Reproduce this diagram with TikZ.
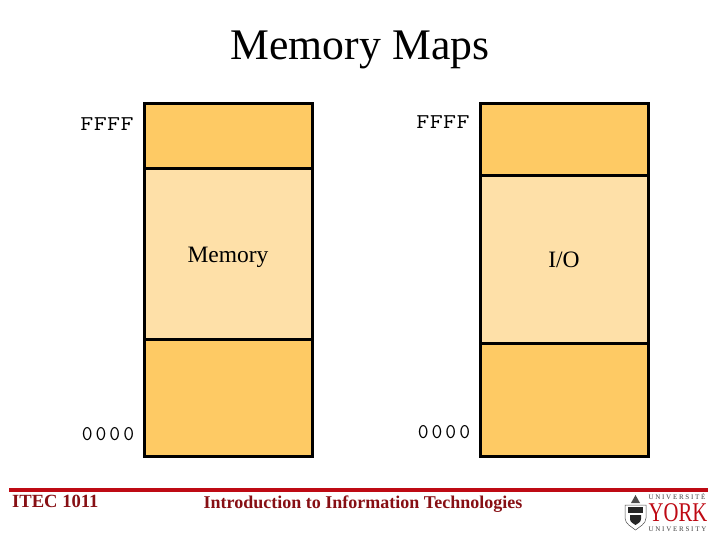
\documentclass[tikz,border=0pt]{standalone}
\usepackage{fontspec}
\setmainfont{Liberation Serif}
\definecolor{darkband}{RGB}{254,202,100}
\definecolor{lightband}{RGB}{254,224,168}
\definecolor{yorkred}{RGB}{190,10,20}
\definecolor{footred}{RGB}{135,15,20}
\newcommand{\gap}{\kern.4pt\relax}
\newcommand{\widegap}{\kern3pt\relax}
\tikzset{
  memblock/.style={draw=black,line width=3pt,minimum width=167.7pt,inner sep=0pt,anchor=north west},
  hexlabel/.style={font=\ttfamily\fontsize{21}{21}\selectfont,inner sep=0pt,text=black},
  bodylabel/.style={font=\fontsize{23.5}{24}\selectfont,inner sep=0pt},
  footlabel/.style={font=\bfseries\fontsize{18}{18}\selectfont,text=footred,inner sep=0pt},
  logotext/.style={font=\fontsize{7}{7}\selectfont,text=black!75,inner sep=0pt}
}
\begin{document}
\begin{tikzpicture}[x=1pt,y=-1pt]
\useasboundingbox (0,0) rectangle (720,540);
\node[font=\fontsize{43.7}{44}\selectfont,inner sep=0pt] (title) at (360,50) {Memory Maps};
% left column
\node[memblock,fill=darkband,minimum height=65pt] (a1) at (143.2,101.7) {};
\node[memblock,fill=lightband,minimum height=170.7pt] (a2) at (143.2,166.8) {};
\node[memblock,fill=darkband,minimum height=117pt] (a3) at (143.2,337.5) {};
% right column
\node[memblock,fill=darkband,minimum height=72pt] (b1) at (479.2,101.7) {};
\node[memblock,fill=lightband,minimum height=168pt] (b2) at (479.2,173.7) {};
\node[memblock,fill=darkband,minimum height=113pt] (b3) at (479.2,341.7) {};
\node[hexlabel,xscale=1.2] (l1) at (107,124) {F\gap F\gap F\gap F};
\node[hexlabel] (l2) at (108,434) {0\widegap 0\widegap 0\widegap 0};
\node[hexlabel,xscale=1.2] (r1) at (443,122) {F\gap F\gap F\gap F};
\node[hexlabel] (r2) at (444,432) {0\widegap 0\widegap 0\widegap 0};
\node[bodylabel] (mem) at (228,257) {Memory};
\node[bodylabel] (io) at (564,260) {I/O};
% footer
\fill[yorkred] (9,488) rectangle (708,492.3);
\node[footlabel,font=\bfseries\fontsize{18.6}{19}\selectfont,anchor=west] (code) at (12,501.5) {ITEC 1011};
\node[footlabel] (course) at (363,504) {Introduction to Information Technologies};
% logo
\node[logotext] (lg1) at (677,496.5) {U N I V E R S I T É};
\node[font=\fontsize{22}{22}\selectfont,text=yorkred,inner sep=0pt,xscale=.94,yscale=1.23] (lg2) at (678,513) {YORK};
\node[logotext] (lg3) at (677.5,529) {U N I V E R S I T Y};
\draw[black!70,line width=.5pt,fill=white] (625,505) -- (646,505) -- (646,518) .. controls (646,524) and (639,527) .. (635.5,530) .. controls (632,527) and (625,524) .. (625,518) -- cycle;
\fill[black!85] (628,507) rectangle (643,513);
\fill[black!85] (630,515) -- (641,515) -- (641,519) .. controls (641,522) and (637.5,524) .. (635.5,525) .. controls (633.5,524) and (630,522) .. (630,519) -- cycle;
\fill[black!70] (635.5,495) -- (640,503) -- (631,503) -- cycle;
\end{tikzpicture}
\end{document}
